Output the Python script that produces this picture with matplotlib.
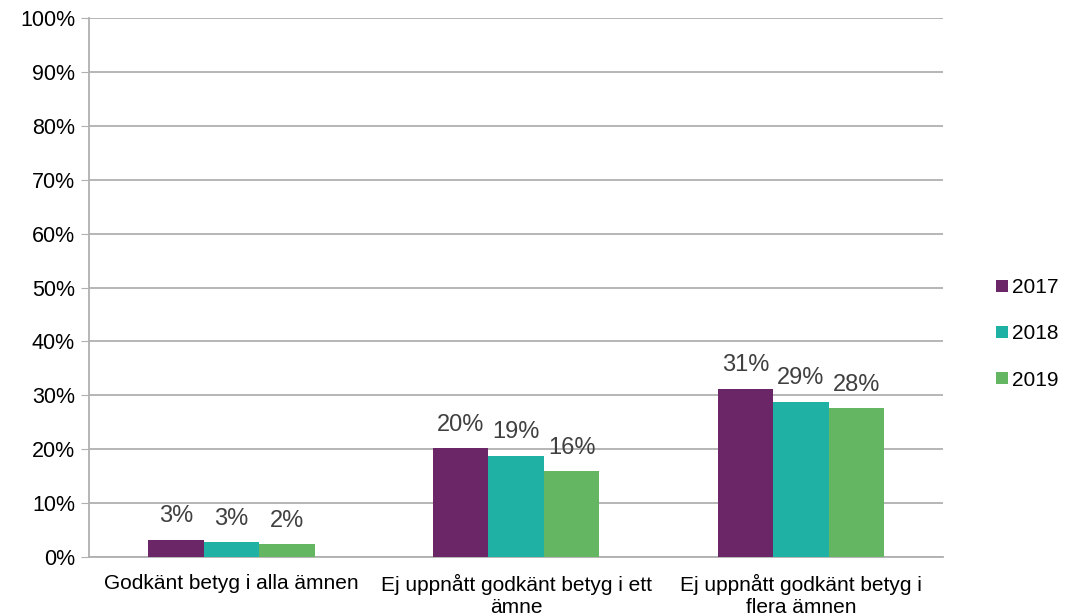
import matplotlib.pyplot as plt
import numpy as np

plt.rcParams['font.family'] = ['Liberation Sans', 'DejaVu Sans']

categories = ["Godkänt betyg i alla ämnen",
              "Ej uppnått godkänt betyg i ett\nämne",
              "Ej uppnått godkänt betyg i\nflera ämnen"]
years = ["2017", "2018", "2019"]
v2017 = [3.2, 20.2, 31.2]
v2018 = [2.8, 18.8, 28.8]
v2019 = [2.4, 15.9, 27.6]
colors = ["#6A2667", "#20B1A5", "#65B662"]

fig = plt.figure(figsize=(10.67, 6.15), dpi=100)
ax = fig.add_axes([0.0834, 0.0943, 0.8006, 0.8764])

x = np.arange(len(categories))
w = 0.195
for i, (vals, yr, c) in enumerate(zip([v2017, v2018, v2019], years, colors)):
    pos = x + (i - 1) * w
    ax.bar(pos, vals, w, color=c, label=yr, zorder=3)
    for p, v in zip(pos, vals):
        ax.text(p, v + 2.3, "%d%%" % round(v), ha="center", va="bottom",
                fontsize=17, color="#404040", zorder=4)

ax.set_ylim(0, 100)
ax.set_xlim(-0.5, 2.5)
ax.set_yticks(range(0, 101, 10))
ax.set_yticklabels(["%d%%" % t for t in range(0, 101, 10)], fontsize=15.5)
ax.set_xticks(x)
ax.set_xticklabels(categories, fontsize=15)
ax.tick_params(axis="x", length=0, pad=12)
ax.tick_params(axis="y", length=6, color="#B0B0B0", pad=4)
ax.grid(axis="y", color="#B0B0B0", linewidth=1.3, zorder=0)
for s in ["top", "right"]:
    ax.spines[s].set_visible(False)
for s in ["left", "bottom"]:
    ax.spines[s].set_color("#B0B0B0")
    ax.spines[s].set_linewidth(1.3)

fig.legend(loc="center left", bbox_to_anchor=(0.916, 0.457), frameon=False,
           fontsize=15, handlelength=0.55, handleheight=0.55, handletextpad=0.2,
           labelspacing=1.3)

fig.savefig("out.png", dpi=100)
